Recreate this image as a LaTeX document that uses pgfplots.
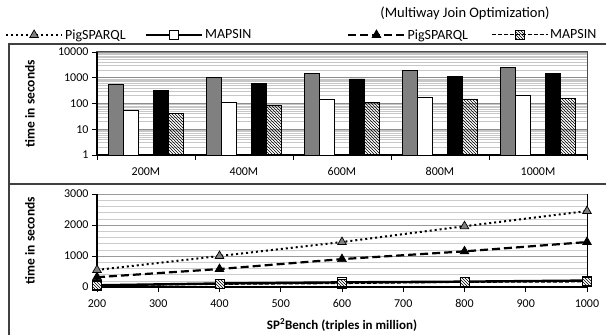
\documentclass[border=0pt]{standalone}
\usepackage{fontspec}
\setmainfont{Carlito}
\usepackage{pgfplots}
\usepackage{pgfplotstable}
\pgfplotsset{compat=1.18}
\usetikzlibrary{patterns}

\pgfplotstableread{
x pig mapsin pigmj mapsinmj
0 550 55 316 40
1 1000 114 580 85
2 1450 150 900 110
3 1960 173 1150 150
4 2450 208 1450 163
}\bars

\pgfplotstableread{
x pig mapsin pigmj mapsinmj
200 550 55 316 40
400 1000 114 580 85
600 1450 150 900 110
800 1960 173 1150 150
1000 2450 208 1450 163
}\lines

\begin{document}
\begin{tikzpicture}
\useasboundingbox (0pt,0pt) rectangle (606pt,335pt);
\draw[line width=1.2pt, black!75] (9pt,0pt) -- (9pt,291pt) -- (606pt,291pt);
\draw[line width=1.2pt, black!75] (9pt,151pt) -- (606pt,151pt);
\node[font=\fontsize{14.5}{16}\selectfont] at (465pt,322pt) {(Multiway Join Optimization)};

\begin{axis}[
 at={(97pt,180pt)}, anchor=south west, scale only axis,
 width=490pt, height=103pt,
 ymode=log, ymin=1, ymax=10000, xmin=-0.5, xmax=4.5,
 axis background/.style={draw=black!70, line width=1pt},
 separate axis lines,
 axis x line*=bottom, axis y line*=left,
 x axis line style={line width=1.6pt, black},
 y axis line style={line width=1.6pt, black},
 tick align=outside,
 ytick={1,10,100,1000,10000},
 yticklabels={1,10,100,1000,10000},
 minor ytick={2,3,4,5,6,7,8,9,20,30,40,50,60,70,80,90,200,300,400,500,600,700,800,900,2000,3000,4000,5000,6000,7000,8000,9000},
 minor tick length=0pt,
 major tick length=5pt,
 ymajorgrids, yminorgrids,
 major grid style={black!45, line width=0.8pt},
 minor grid style={black!22, line width=0.6pt},
 xtick={0,...,4},
 xticklabels={200M,400M,600M,800M,1000M},
 major x tick style={draw=none},
 extra x ticks={-0.5,0.5,1.5,2.5,3.5,4.5},
 extra x tick labels={},
 extra x tick style={major x tick style={draw=black, line width=0.8pt}, grid=none},
 major y tick style={black, line width=0.8pt},
 ticklabel style={font=\fontsize{12}{14}\selectfont},
 xticklabel style={yshift=-4pt},
 ylabel={time in seconds},
 every axis y label/.style={at={(axis description cs:-0.137,0.5)}, rotate=90, anchor=center,
   font=\bfseries\fontsize{13.5}{15}\selectfont},
 ybar, bar width=15pt,
]
\addplot[draw=black, line width=0.8pt, fill=black!50, bar shift=-30pt] table[x=x,y=pig]{\bars};
\addplot[draw=black, line width=0.8pt, fill=white, bar shift=-15pt] table[x=x,y=mapsin]{\bars};
\addplot[draw=black, line width=0.8pt, fill=black, bar shift=15pt] table[x=x,y=pigmj]{\bars};
\addplot[draw=black, line width=0.8pt, pattern=north west lines, bar shift=30pt] table[x=x,y=mapsinmj]{\bars};
\end{axis}

\begin{axis}[
 at={(97pt,48pt)}, anchor=south west, scale only axis,
 width=490pt, height=93pt,
 xmin=200, xmax=1000, ymin=0, ymax=3000,
 axis background/.style={draw=black, line width=0.8pt},
 separate axis lines,
 axis x line*=bottom, axis y line*=left,
 x axis line style={line width=1.6pt, black},
 y axis line style={line width=1.6pt, black},
 tick align=outside,
 xtick={200,300,...,1000},
 ytick={0,1000,2000,3000},
 minor y tick num=4,
 minor tick length=0pt,
 major tick length=5pt,
 ymajorgrids, yminorgrids,
 major grid style={black!40, line width=0.8pt},
 minor grid style={black!20, line width=0.6pt},
 major tick style={black, line width=0.8pt},
 /pgf/number format/assume math mode=true,
 /pgf/number format/1000 sep={},
 ticklabel style={font=\fontsize{12}{14}\selectfont},
 xticklabel style={yshift=-4pt},
 ylabel={time in seconds},
 every axis y label/.style={at={(axis description cs:-0.137,0.5)}, rotate=90, anchor=center,
   font=\bfseries\fontsize{13.5}{15}\selectfont},
 xlabel={SP\textsuperscript{2}Bench (triples in million)},
 every axis x label/.style={at={(axis description cs:0.5,0)}, yshift=-38pt, anchor=center,
   font=\bfseries\fontsize{13}{15}\selectfont},
 clip=false,
 legend columns=4,
 legend style={at={(axis description cs:-0.194,2.71)}, anchor=west, draw=none, fill=none,
   font=\fontsize{14}{16}\selectfont,
   /tikz/column 2/.style={column sep=17pt},
   /tikz/column 4/.style={column sep=94pt},
   /tikz/column 6/.style={column sep=21pt}},
 legend image code/.code={%
   \draw[mark repeat=2,mark phase=2,#1] plot coordinates {(0pt,0pt) (28pt,0pt) (56pt,0pt)};},
]
\addplot[black, line width=2pt, dash pattern=on 2pt off 3pt, mark=triangle*, mark size=5pt,
  mark options={solid, fill=black!50, line width=0.7pt}] table[x=x,y=pig]{\lines};
\addlegendentry{PigSPARQL}
\addplot[black, line width=2.4pt, mark=square*, mark size=4.5pt,
  mark options={solid, fill=white, line width=0.8pt}] table[x=x,y=mapsin]{\lines};
\addlegendentry{MAPSIN}
\addplot[black, line width=2.2pt, dash pattern=on 8pt off 4pt, mark=triangle*, mark size=5pt,
  mark options={solid, fill=black, line width=0.7pt}] table[x=x,y=pigmj]{\lines};
\addlegendentry{PigSPARQL}
\addplot[black, line width=1pt, dash pattern=on 4pt off 2pt, mark=square*, mark size=4.5pt,
  mark options={solid, pattern=north west lines, line width=0.8pt}] table[x=x,y=mapsinmj]{\lines};
\addlegendentry{MAPSIN}
\end{axis}
\end{tikzpicture}
\end{document}
